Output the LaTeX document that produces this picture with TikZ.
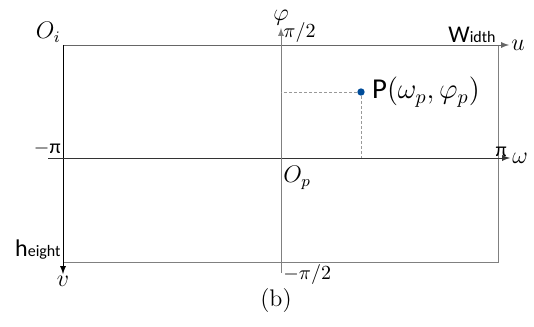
\documentclass[tikz,border=0pt]{standalone}
\usepackage{fontspec}
\newfontfamily\calibri{Carlito}
\usetikzlibrary{positioning}
\begin{document}
\begin{tikzpicture}[>=latex, x=0.5pt, y=-0.5pt]
    \useasboundingbox (0,0) rectangle (534,326);
    % 1. Các điểm chính
    \coordinate (Oi) at (63,45);
    \coordinate (W) at (498,45);
    \coordinate (H) at (63,262);
    \coordinate (WH) at (498,262);
    \coordinate (uend) at (509,45);
    \coordinate (vend) at (63,274);
    \coordinate (wbeg) at (48,158);
    \coordinate (wend) at (510,158);
    \coordinate (phibot) at (281,273);
    \coordinate (phitop) at (281,28);
    \coordinate (Pw) at (361,158);
    \coordinate (Pphi) at (281,92);
    
    % 2. Khung ảnh
    \draw[gray] (W) -- (WH) -- (H);
    \draw[->, gray!80!black] (Oi) -- (uend);
    \draw[->] (Oi) -- (vend);
    
    % 3. Hệ trục
    \draw[->, black!80] (wbeg) -- (wend);
    \draw[->, gray] (phibot) -- (phitop);
    
    % 4. Điểm P
    \node[circle, fill=blue!50!cyan!60!black, inner sep=1.3pt] (P) at (361,92) {};
    \draw[gray!80, dash pattern=on 1.5pt off 1pt] (P) -- (Pphi);
    \draw[gray!80, dash pattern=on 1.5pt off 1pt] (P) -- (Pw);
    \node[right=0pt of P, font=\Large] (Plab) {\calibri P$\bigl(\omega_p,\varphi_p\bigr)$};
    
    % 5. Nhãn
    \node[above left, inner sep=1pt] (oi) at (Oi) {\large $O_i$};
    \node[above left, inner sep=1pt] (wid) at (W) {\calibri\large W{\footnotesize idth}};
    \node[right, inner sep=1pt] (u) at (uend) {\large $u$};
    \node[above left, inner sep=1pt] (hei) at (H) {\calibri\large h{\footnotesize eight}};
    \node[below, inner sep=1pt] (v) at (vend) {\large $v$};
    \node[above left, inner sep=1pt] (mpi) at (63,158) {\calibri $-$π};
    \node[above left, inner sep=0pt] (pi) at (507,157) {\calibri π};
    \node[right, inner sep=1pt] (w) at (wend) {\large $\omega$};
    \node[above, inner sep=1pt] (phi) at (phitop) {\large $\varphi$};
    \node[above right, inner sep=1pt] (pih) at (Oi -| phitop) {$\pi/2$};
    \node[below right, inner sep=1pt] (Op) at (281,164) {\large $O_p$};
    \node[below right, inner sep=1pt] (mpih) at (H -| phitop) {$-\pi/2$};
    \node (cap) at (276,301) {\large (b)};
\end{tikzpicture}
\end{document}
